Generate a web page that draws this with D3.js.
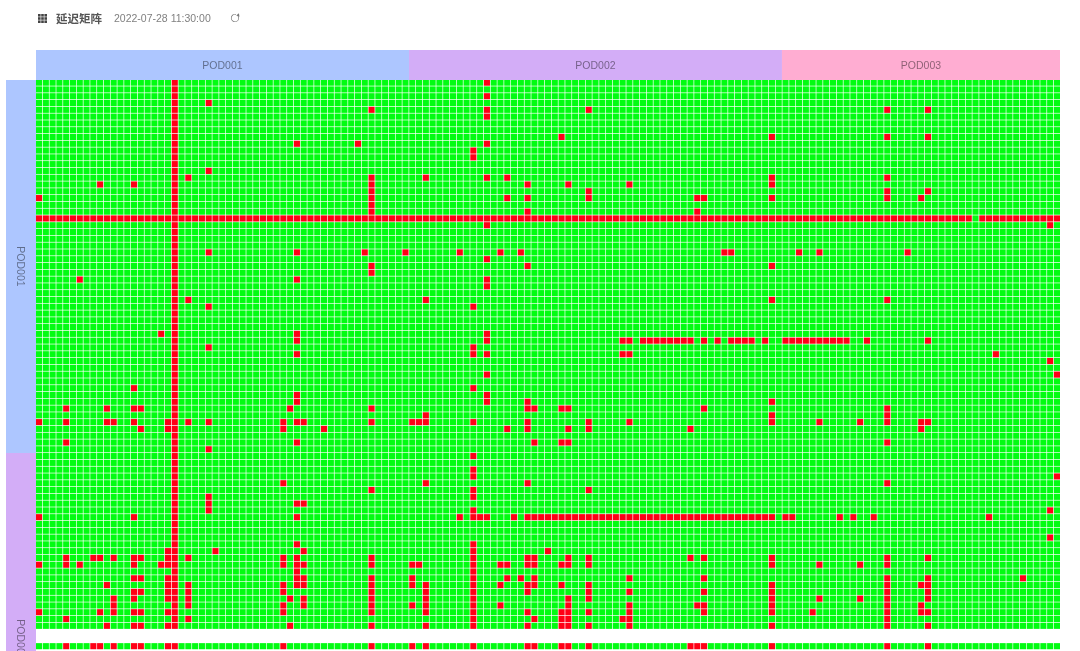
<!DOCTYPE html>
<html><head><meta charset="utf-8">
<script src="https://cdn.jsdelivr.net/npm/d3@7/dist/d3.min.js"></script>
<style>html,body{margin:0;padding:0;background:#fff;overflow:hidden}svg{display:block;filter:blur(0.35px)}</style>
</head><body><svg id="c" width="1080" height="651"></svg>
<script>
const title = "延迟矩阵";
const timestamp = "2022-07-28 11:30:00";
const pods = ["POD001", "POD002", "POD003"];
const podSizes = [55, 55, 41];
const podColors = ["#adc6ff", "#d3adf7", "#ffadd2"];
const cellCount = 151;
const shownRows = 84;
const blankRows = [81, 82];
const slowColumn = 20;
const slowRow = 20;
const slowRowGaps = [138];
const run = (a, b) => d3.range(a, b + 1);
const slowCells = {
  0:[66], 2:[66], 3:[25], 4:[49,66,81,125,131], 5:[66],
  8:[77,108,125,131], 9:[38,47,66], 10:[64], 11:[64], 13:[25],
  14:[22,49,57,66,69,108,125], 15:[9,14,49,72,78,87,108],
  16:[49,81,125,131], 17:[0,49,69,72,81,97,98,108,125,130],
  18:[49], 19:[49,72,97], 21:[66,149],
  25:[25,38,48,54,62,68,71,101,102,112,115,128], 26:[66],
  27:[49,72,108], 28:[49], 29:[6,38,66], 30:[66],
  32:[22,57,108,125], 33:[25,64], 37:[18,38,66],
  38:[38,66,86,87,...run(89,96),98,100,102,103,104,105,107,...run(110,119),122,131],
  39:[25,64], 40:[38,64,66,86,87,141], 41:[149], 43:[66,150],
  45:[14,64], 46:[38,66], 47:[38,66,72,108],
  48:[4,10,14,15,37,49,72,73,77,78,98,125], 49:[57,108,125],
  50:[0,4,10,11,14,19,22,25,36,38,39,49,55,56,57,64,72,81,87,108,115,121,125,130,131],
  51:[15,19,36,42,69,72,78,81,96,130],
  53:[4,38,73,77,78,125], 54:[25], 55:[64], 57:[64], 58:[64,150],
  59:[36,57,72,125], 60:[49,64,81], 61:[25,64], 62:[25,38,39], 63:[25,64,149],
  64:[0,14,38,62,64,65,66,70,...run(72,108),110,111,118,120,123,140],
  67:[149], 68:[38,64], 69:[19,26,39,64,75],
  70:[4,8,9,11,14,15,19,22,36,38,49,64,72,73,78,81,96,98,108,125,131],
  71:[0,4,6,14,18,19,36,38,39,49,55,56,64,68,69,72,73,77,78,81,108,115,121,125],
  72:[38,64],
  73:[14,15,19,38,39,49,55,64,69,71,73,87,98,125,131,145],
  74:[10,19,22,36,38,39,49,55,57,64,68,72,73,77,81,108,125,130,131],
  75:[14,15,19,22,36,49,57,64,72,81,87,98,108,125,131],
  76:[11,14,19,22,37,39,49,57,64,78,81,108,115,121,125,131],
  77:[11,22,36,39,49,55,57,64,68,78,87,97,98,108,125,130],
  78:[0,9,11,14,15,19,36,49,57,64,72,77,78,81,87,98,108,114,125,130,131],
  79:[4,22,64,73,77,78,86,87,125],
  80:[10,14,15,19,37,49,57,64,72,77,78,81,87,108,125,131],
  83:[4,8,9,11,14,15,19,20,36,49,55,57,64,72,73,77,78,81,96,97,98,108,125,131]
};

const svg = d3.select("#c");
const left = 36, right = 1060, gridTop = 80, stripTop = 50, stripLeft = 6;
const step = (right - left) / cellCount;
const x = d3.scaleBand().domain(d3.range(cellCount)).range([left, right]).paddingInner(0.1).paddingOuter(0);
const y = d3.scaleBand().domain(d3.range(shownRows)).range([gridTop, gridTop + step * shownRows]).paddingInner(0.1).paddingOuter(0);
const edge = d3.scaleLinear().domain([0, cellCount]).range([left, right]);

const isSlow = (r, c) => {
  if (r === slowRow) return !slowRowGaps.includes(c);
  if (c === slowColumn && r <= 80) return true;
  return (slowCells[r] || []).includes(c);
};
const cells = [];
d3.range(shownRows).filter(r => !blankRows.includes(r)).forEach(r =>
  d3.range(cellCount).forEach(c => cells.push({r, c, slow: isSlow(r, c)})));

svg.append("g").attr("transform", "translate(0,-0.4)").selectAll("rect").data(cells).join("rect")
  .attr("x", d => x(d.c)).attr("y", d => y(d.r))
  .attr("width", x.bandwidth()).attr("height", y.bandwidth())
  .attr("fill", d => d.slow ? "#ff0016" : "#02fc12");

const starts = d3.cumsum([0, ...podSizes]);
const groups = pods.map((name, i) => ({name, color: podColors[i], a: starts[i], b: starts[i + 1]}));

const topStrip = svg.append("g");
topStrip.selectAll("rect").data(groups).join("rect")
  .attr("x", d => edge(d.a)).attr("y", stripTop)
  .attr("width", d => edge(d.b) - edge(d.a)).attr("height", gridTop - stripTop)
  .attr("fill", d => d.color);
topStrip.selectAll("text").data(groups).join("text")
  .attr("x", d => (edge(d.a) + edge(d.b)) / 2).attr("y", 65)
  .attr("text-anchor", "middle").attr("dominant-baseline", "central")
  .attr("font-family", "Liberation Sans, Arial, sans-serif").attr("font-size", 10.5)
  .attr("fill", "rgba(0,0,0,0.45)").text(d => d.name);

const sideEdge = d3.scaleLinear().domain([0, cellCount]).range([gridTop, gridTop + step * cellCount]);
const sideMid = d => (sideEdge(d.a) + sideEdge(d.b)) / 2;
const side = svg.append("g");
side.selectAll("rect").data(groups).join("rect")
  .attr("x", stripLeft).attr("y", d => sideEdge(d.a))
  .attr("width", left - stripLeft).attr("height", d => sideEdge(d.b) - sideEdge(d.a))
  .attr("fill", d => d.color);
side.selectAll("text").data(groups.filter(d => sideMid(d) < 651)).join("text")
  .attr("transform", d => `translate(21,${sideMid(d)}) rotate(90)`)
  .attr("text-anchor", "middle").attr("dominant-baseline", "central")
  .attr("font-family", "Liberation Sans, Arial, sans-serif").attr("font-size", 10.5)
  .attr("fill", "rgba(0,0,0,0.45)").text(d => d.name);

// header
const icon = svg.append("g").attr("transform", "translate(38,14)");
const dots = d3.range(3);
dots.forEach(i => dots.forEach(j => icon.append("rect")
  .attr("x", i * 3.2).attr("y", j * 3.2).attr("width", 2.6).attr("height", 2.6).attr("fill", "#444")));
svg.append("text").attr("x", 56).attr("y", 18).attr("dominant-baseline", "central")
  .attr("font-family", "Noto Sans CJK SC, sans-serif").attr("font-weight", 700).attr("font-size", 11.5)
  .attr("fill", "#555").text(title);
svg.append("text").attr("x", 114).attr("y", 18).attr("dominant-baseline", "central")
  .attr("font-family", "Liberation Sans, Arial, sans-serif").attr("font-size", 10.5)
  .attr("fill", "#808080").text(timestamp);
const refreshArc = d3.arc().innerRadius(3.4).outerRadius(4.1).startAngle(0.9).endAngle(2 * Math.PI + 0.25);
svg.append("path").attr("transform", "translate(235,18)").attr("d", refreshArc()).attr("fill", "#777");
svg.append("path").attr("d", d3.symbol(d3.symbolTriangle, 5)()).attr("transform", "translate(238.2,15.2) rotate(20)").attr("fill", "#777");
</script></body></html>
